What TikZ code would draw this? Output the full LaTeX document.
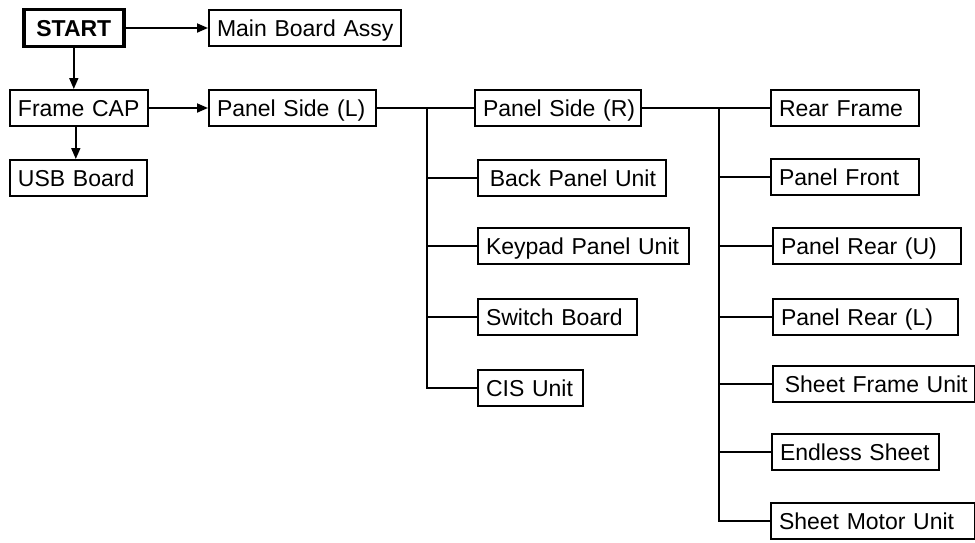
\documentclass[tikz,border=0pt]{standalone}
\usepackage{fontspec}
\setmainfont{Liberation Sans}
\usetikzlibrary{arrows.meta}
\begin{document}
\begin{tikzpicture}[x=0.5pt,y=-0.5pt,
  box/.style={draw=black, line width=1pt, anchor=west, minimum height=18pt,
    inner xsep=4pt, inner ysep=2pt, align=left, text height=8.2pt, text depth=0pt,
    font=\fontsize{11.5}{13}\selectfont},
  startbox/.style={draw=black, line width=1.8pt, anchor=west, minimum height=18.5pt,
    minimum width=50pt, text height=8.2pt, text depth=0pt,
    font=\fontsize{11.5}{13}\selectfont\bfseries},
  conn/.style={draw=black, line width=0.9pt},
  arr/.style={conn, -{Triangle[length=5.5pt,width=4.5pt]}}]
\useasboundingbox (0,0) rectangle (975,542);
% left column
\node[startbox] (start) at (22,28) {START};
\node[box, text width=88pt] (main) at (208,28) {\mbox{Main Board Assy}};
\node[box, text width=61pt] (fcap) at (9,108) {\mbox{Frame CAP}};
\node[box, text width=75.5pt] (psl) at (208,108) {\mbox{Panel Side (L)}};
\node[box, text width=60.5pt] (usb) at (9,178) {\mbox{USB Board}};
% middle column
\node[box, text width=75pt] (psr) at (474,108) {\mbox{Panel Side (R)}};
\node[box, text width=86pt] (back) at (477,178) {\mbox{\,Back Panel Unit}};
\node[box, text width=97.5pt] (key) at (477,246) {\mbox{Keypad Panel Unit}};
\node[box, text width=71.5pt] (sw) at (477,317) {\mbox{Switch Board}};
\node[box, text width=44.5pt] (cis) at (477,388) {\mbox{CIS Unit}};
% right column
\node[box, text width=66pt] (rear) at (770,108) {\mbox{Rear Frame}};
\node[box, text width=66pt] (pfront) at (770,177) {\mbox{Panel Front}};
\node[box, text width=86pt] (pru) at (772,246) {\mbox{Panel Rear (U)}};
\node[box, text width=84.5pt] (prl) at (772,317) {\mbox{Panel Rear (L)}};
\node[box, text width=93pt] (sfu) at (772,384) {\mbox{\,Sheet Frame Unit}};
\node[box, text width=75.5pt] (es) at (771,452) {\mbox{Endless Sheet}};
\node[box, text width=94pt] (smu) at (770,521) {\mbox{Sheet Motor Unit}};
% arrows
\draw[arr] (start.east) -- (main.west);
\draw[arr] (start.south) -- (start.south |- fcap.north);
\draw[arr] ([xshift=1pt]start.south |- fcap.south) -- ([xshift=1pt]start.south |- usb.north);
\draw[arr] (fcap.east) -- (psl.west);
% tree 1
\coordinate (t1) at (427,108);
\draw[conn] (psl.east) -- (psr.west);
\draw[conn] (t1) |- (cis.west);
\draw[conn] (t1 |- back.west) -- (back.west);
\draw[conn] (t1 |- key.west) -- (key.west);
\draw[conn] (t1 |- sw.west) -- (sw.west);
% tree 2
\coordinate (t2) at (719,108);
\draw[conn] (psr.east) -- (rear.west);
\draw[conn] (t2) |- (smu.west);
\draw[conn] (t2 |- pfront.west) -- (pfront.west);
\draw[conn] (t2 |- pru.west) -- (pru.west);
\draw[conn] (t2 |- prl.west) -- (prl.west);
\draw[conn] (t2 |- sfu.west) -- (sfu.west);
\draw[conn] (t2 |- es.west) -- (es.west);
\end{tikzpicture}
\end{document}
